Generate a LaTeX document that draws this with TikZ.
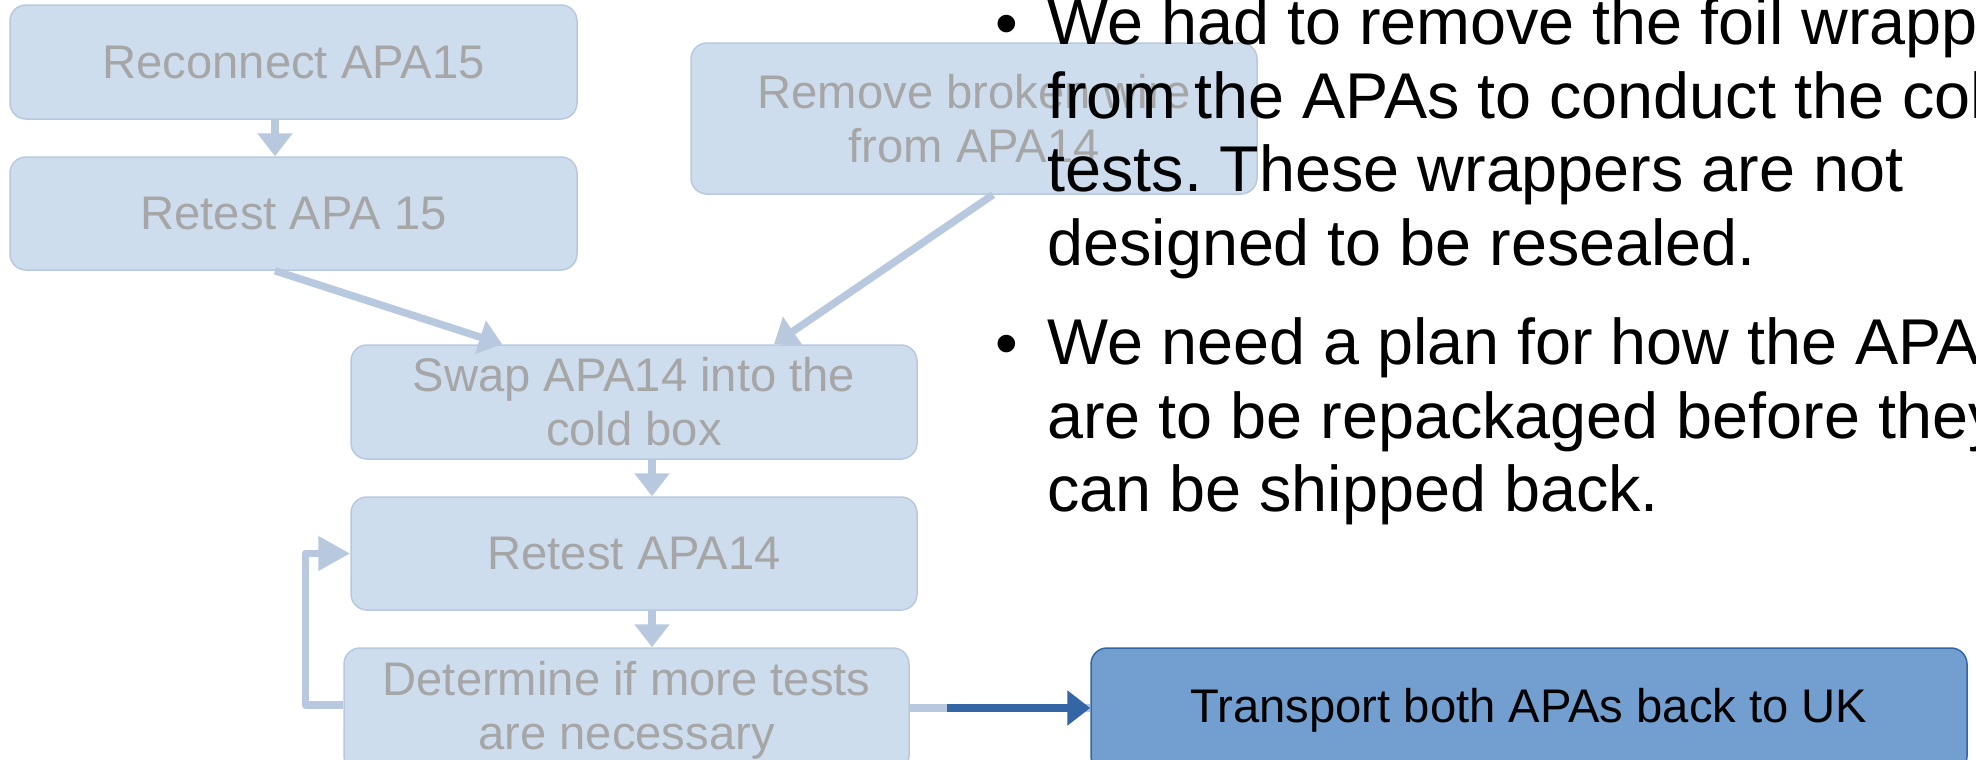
\documentclass[tikz,border=0pt]{standalone}
\usepackage{fontspec}
\setmainfont{Liberation Sans}
\usetikzlibrary{arrows.meta}
\frenchspacing

\definecolor{boxfill}{HTML}{CEDDEE}
\definecolor{boxline}{HTML}{B8C9DF}
\definecolor{boxtext}{HTML}{A6A6A6}
\definecolor{connfade}{HTML}{B8C9DF}
\definecolor{activefill}{HTML}{729FCF}
\definecolor{activeline}{HTML}{3465A4}

\begin{document}
\begin{tikzpicture}[x=0.5pt,y=-0.5pt,
  stepbox/.style={draw=boxline, fill=boxfill, line width=0.75pt,
    rounded corners=8pt, inner sep=0pt, align=center, text=boxtext,
    font=\fontsize{23.6pt}{27pt}\selectfont},
  activebox/.style={stepbox, draw=activeline, fill=activefill, text=black},
  fadeconn/.style={draw=connfade, line width=3.75pt,
    -{Triangle[length=11.5pt,width=17pt]}},
  loopconn/.style={fadeconn, -{Triangle[length=16pt,width=16.5pt]}},
  activeconn/.style={fadeconn, draw=activeline},
  bullettext/.style={anchor=north west, inner sep=0pt, align=left,
    font=\fontsize{32.35pt}{36.75pt}\selectfont},
  bulletmark/.style={anchor=base west, inner sep=0pt,
    font=\fontsize{32.35pt}{36.75pt}\selectfont}]

\clip (0,0) rectangle (1976,760);

% flowchart steps
\node[stepbox, minimum width=283.5pt, minimum height=57pt] (A) at (293.5,62) {Reconnect APA15};
\node[stepbox, minimum width=283.5pt, minimum height=56.5pt] (B) at (293.5,213.5) {Retest APA 15};
\node[stepbox, minimum width=283pt, minimum height=75.5pt] (C) at (974,118.5) {Remove broken wire\\from APA14};
\node[stepbox, minimum width=283pt, minimum height=57pt] (D) at (634,402) {Swap APA14 into the\\cold box};
\node[stepbox, minimum width=283pt, minimum height=56.5pt] (E) at (634,553.5) {Retest APA14};
\node[stepbox, minimum width=282.5pt, minimum height=62pt] (F) at (626.5,710) {Determine if more tests\\are necessary};
\node[activebox, minimum width=438pt, minimum height=62pt] (G) at (1529,710) {Transport both APAs back to UK};

% connectors
\draw[fadeconn] ([xshift=-9.25pt]A.south) -- ([xshift=-9.25pt]B.north);
\draw[fadeconn] ([xshift=-9.25pt]B.south) -- ([xshift=76pt]D.north west);
\draw[fadeconn] ([xshift=9.5pt]C.south) -- ([xshift=70pt]D.north);
\draw[fadeconn] ([xshift=9pt]D.south) -- ([xshift=9pt]E.north);
\draw[fadeconn] ([xshift=9pt]E.south) -- ([xshift=9pt]E.south |- F.north);
\draw[loopconn, line join=round] ([yshift=2.5pt]F.west) -- ++(-19pt,0) |- (E.west);
\draw[draw=connfade, line width=3.75pt] ([yshift=1pt]F.east) -- ([yshift=1pt]F.east -| G.west);
\coordinate (S) at ([xshift=18.5pt,yshift=1pt]F.east);
\draw[activeconn] (S) -- (S -| G.west);

% notes
\node[bulletmark] (m1) at (995,45) {•};
\node[bullettext] (t1) at (1047,-2.3) {We had to remove the foil wrappers\\from the APAs to conduct the cold\\tests. These wrappers are not\\designed to be resealed.};
\node[bulletmark] (m2) at (995,365) {•};
\node[bullettext] (t2) at (1047,317.7) {We need a plan for how the APAs\\are to be repackaged before they\\can be shipped back.};
\end{tikzpicture}
\end{document}
